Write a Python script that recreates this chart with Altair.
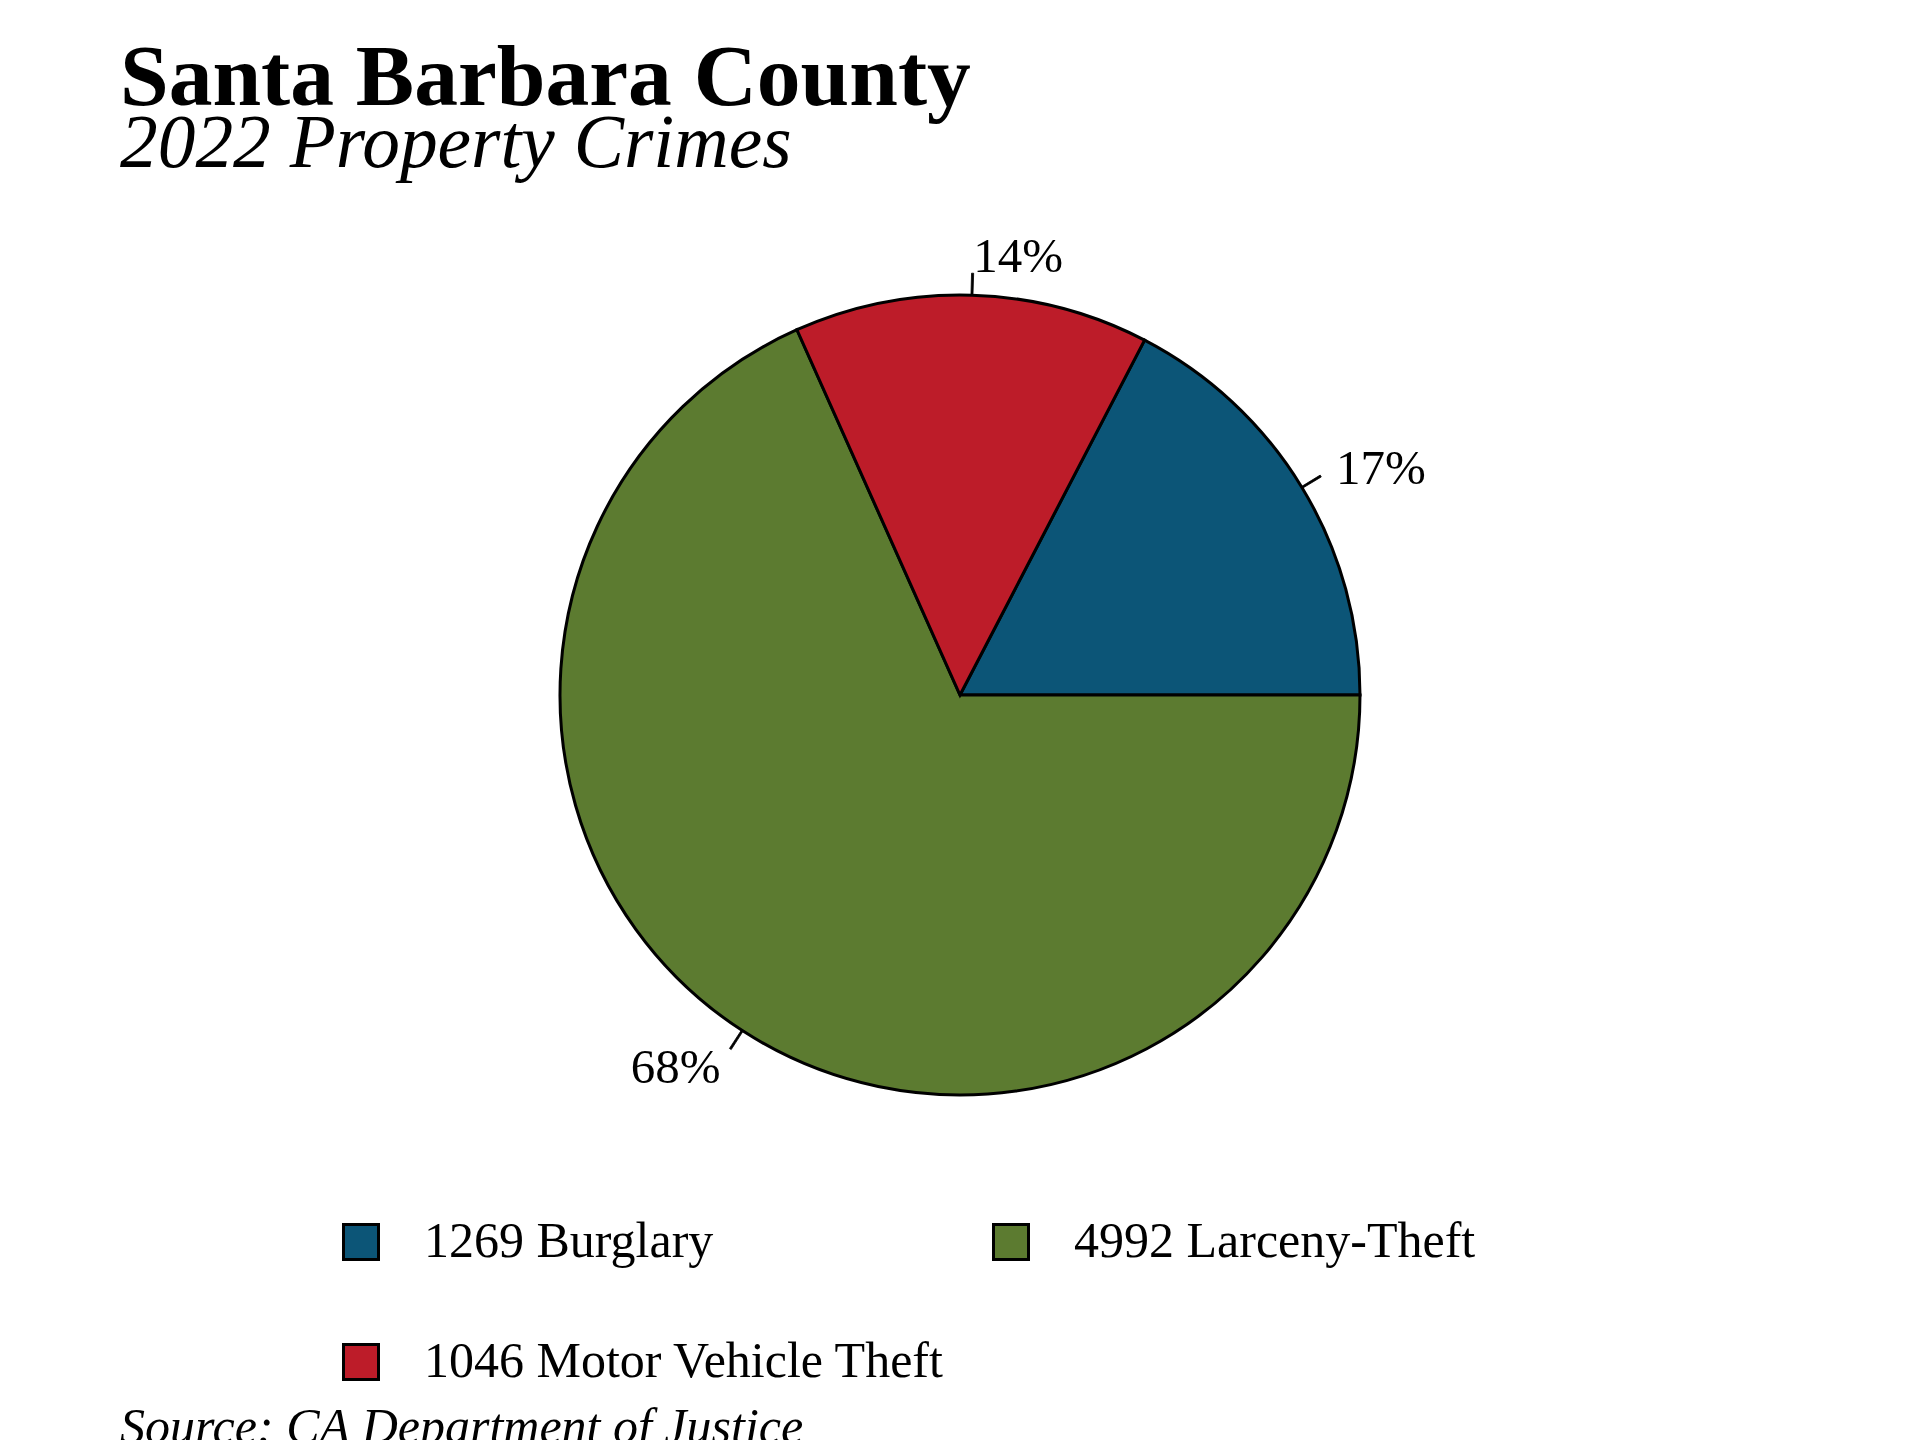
import math
import altair as alt
import pandas as pd

# ---- data ----
categories = ["Burglary", "Larceny-Theft", "Motor Vehicle Theft"]
counts = [1269, 4992, 1046]
colors = ["#0C5577", "#5C7B30", "#BD1C29"]
pie_order = [0, 2, 1]      # counter-clockwise order starting at 3 o'clock
legend_order = [0, 2, 1]   # legend fills column by column
title_text = "Santa Barbara County"
subtitle_text = "2022 Property Crimes"
source_text = "Source: CA Department of Justice"

FONT = "Liberation Serif"

labels = [f"{n} {c}" for n, c in zip(counts, categories)]
total = sum(counts)
df = pd.DataFrame({"category": categories, "count": counts, "label": labels, "order": pie_order})
src_df = pd.DataFrame({"t": [source_text]})

legend_domain = [labels[i] for i in legend_order]
legend_range = [colors[i] for i in legend_order]

theta_scale = alt.Scale(domain=[0, total], range=[math.pi / 2, math.pi / 2 - 2 * math.pi])

base = (
    alt.Chart(df)
    .transform_window(cum="sum(count)", sort=[alt.SortField("order")])
    .transform_joinaggregate(total="sum(count)")
    .transform_calculate(
        start="datum.cum - datum.count",
        mid="datum.cum - datum.count / 2",
        t1="datum.cum - datum.count / 2 - datum.total * 0.0004",
        t2="datum.cum - datum.count / 2 + datum.total * 0.0004",
        pct="round(datum.count / datum.total * 100) + '%'",
        side="cos(2 * PI * (datum.cum - datum.count / 2) / datum.total) >= 0 ? 'right' : 'left'",
    )
)

legend = alt.Legend(
    title=None,
    orient="none",
    legendX=216,
    legendY=1017,
    columns=2,
    symbolType="square",
    symbolSize=1225,
    symbolStrokeColor="black",
    symbolStrokeWidth=3,
    symbolOpacity=1,
    labelFont=FONT,
    labelFontSize=50,
    labelColor="black",
    labelOffset=38,
    labelLimit=0,
    columnPadding=41,
    rowPadding=70,
)

pie = base.mark_arc(radius=400, stroke="black", strokeWidth=3).encode(
    theta=alt.Theta("start:Q", scale=theta_scale, stack=None),
    theta2="cum:Q",
    color=alt.Color("label:N", scale=alt.Scale(domain=legend_domain, range=legend_range), legend=legend),
)

ticks = base.mark_arc(radius=422, radius2=400, color="black", stroke="black", strokeWidth=0.8).encode(
    theta=alt.Theta("t1:Q", scale=theta_scale, stack=None),
    theta2="t2:Q",
)

lab_right = base.transform_filter("datum.side == 'right'").mark_text(
    radius=440, align="left", baseline="middle", fontSize=49, dy=2, font=FONT, color="black"
).encode(theta=alt.Theta("mid:Q", scale=theta_scale, stack=None), text="pct:N")

lab_left = base.transform_filter("datum.side == 'left'").mark_text(
    radius=440, align="right", baseline="middle", fontSize=49, dy=4, font=FONT, color="black"
).encode(theta=alt.Theta("mid:Q", scale=theta_scale, stack=None), text="pct:N")

src = alt.Chart(src_df).mark_text(
    align="left", baseline="alphabetic", fontSize=50, font=FONT, fontStyle="italic", color="black"
).encode(x=alt.value(0), y=alt.value(1243), text="t:N")

chart = (
    alt.layer(pie, ticks, lab_right, lab_left, src)
    .properties(
        width=1680,
        height=990,
        title=alt.Title(
            title_text,
            subtitle=subtitle_text,
            anchor="start",
            frame="group",
            font=FONT,
            fontSize=87.5,
            fontWeight="bold",
            color="black",
            subtitleFont=FONT,
            subtitleFontSize=75.4,
            subtitleFontStyle="italic",
            subtitleColor="black",
            subtitlePadding=-17,
            offset=17,
        ),
        autosize=alt.AutoSizeParams(type="none"),
        padding={"left": 120, "top": 200, "right": 120, "bottom": 250},
    )
    .configure_view(stroke=None)
)

chart.save("out.html", embed_options={"renderer": "svg", "actions": False})
